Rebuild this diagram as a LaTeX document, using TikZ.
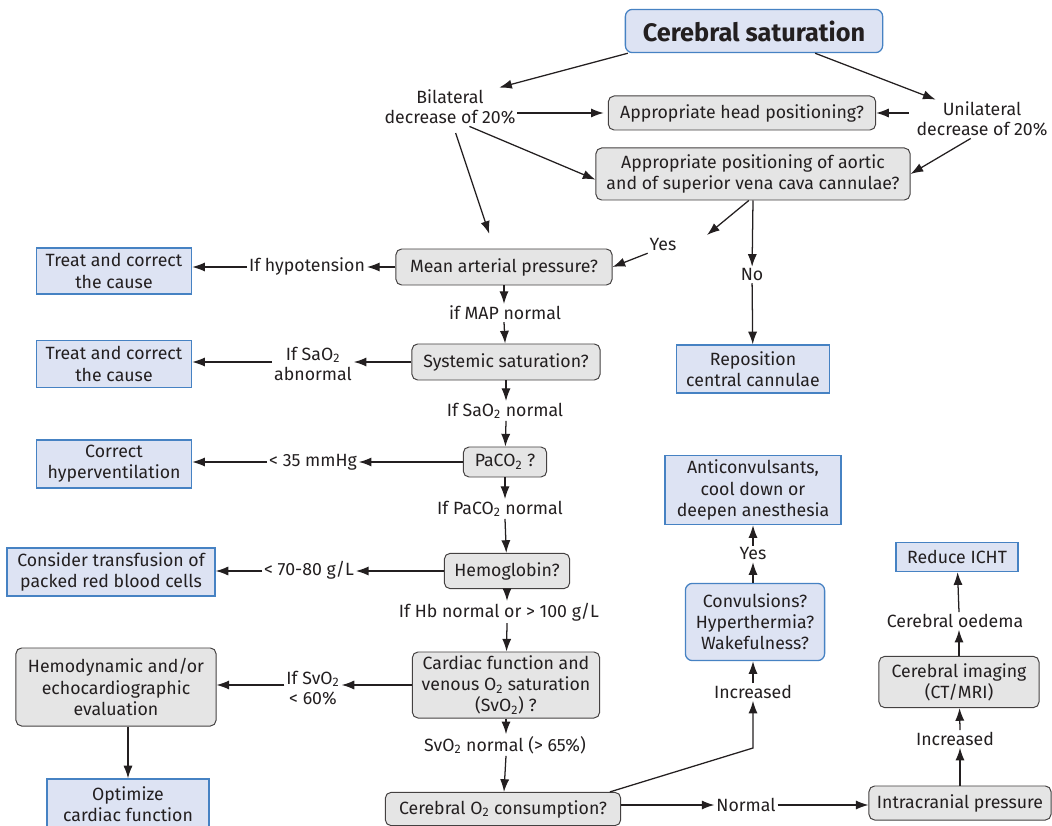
\documentclass[tikz,border=0pt]{standalone}
\usepackage{fontspec}
\setmainfont{Fira Sans}
\usetikzlibrary{arrows.meta,positioning}
\definecolor{boxblue}{RGB}{221,227,243}
\definecolor{edgeblue}{RGB}{70,130,195}
\definecolor{boxgray}{RGB}{229,229,229}
\definecolor{ink}{RGB}{35,31,32}
\newcommand{\Otwo}{O\textsubscript{2}}
\tikzset{
  act/.style={draw=edgeblue, fill=boxblue, line width=0.9pt, align=center, inner sep=0pt},
  ask/.style={draw=ink!85, fill=boxgray, rounded corners=4pt, line width=0.7pt, align=center, inner sep=0pt},
  askblue/.style={act, rounded corners=5pt},
  titlebox/.style={askblue, font=\fontsize{18}{21}\selectfont\bfseries},
  lbl/.style={align=center, inner sep=1pt, font=\fontsize{12.6}{14.5}\selectfont},
}

\begin{document}
\begin{tikzpicture}[x=0.025cm, y=-0.025cm, >={Latex[length=9pt,width=6.5pt]}, line width=0.9pt, draw=ink, text=ink,
  every node/.style={font=\fontsize{12.6}{15}\selectfont}]
  \useasboundingbox (0,0) rectangle (1052,826);
  \node[titlebox, minimum width=6.43cm, minimum height=1.08cm] (title) at (754,31) {Cerebral saturation};
  \node[lbl] (bil) at (450,107) {Bilateral\\decrease of 20\%};
  \node[lbl] (uni) at (982,119) {Unilateral\\decrease of 20\%};
  \node[ask, minimum width=6.68cm, minimum height=0.85cm] (headpos) at (742,113) {Appropriate head positioning?};
  \node[ask, minimum width=7.85cm, minimum height=1.3cm] (aortic) at (753,174) {Appropriate positioning of aortic\\and of superior vena cava cannulae?};
  \coordinate (yesend) at (707,235);
  \node[lbl] (yes) at (663,245) {Yes};
  \node[lbl] (no) at (752,275) {No};
  \node[act, minimum width=3.83cm, minimum height=1.2cm] (repo) at (753,369) {Reposition\\central cannulae};
  \node[ask, minimum width=5.4cm, minimum height=0.9cm] (map) at (504,267) {Mean arterial pressure?};
  \node[lbl] (hypo) at (307,266) {If hypotension};
  \node[act, minimum width=3.88cm, minimum height=1.15cm] (treat1) at (114,271) {Treat and correct\\the cause};
  \node[lbl] (mapok) at (505,313) {if MAP normal};
  \node[ask, minimum width=4.7cm, minimum height=0.9cm] (sys) at (506,362) {Systemic saturation?};
  \node[lbl] (saab) at (313,364) {If Sa\Otwo\\abnormal};
  \node[act, minimum width=3.88cm, minimum height=1.18cm] (treat2) at (114,364) {Treat and correct\\the cause};
  \node[lbl] (saok) at (505,411) {If Sa\Otwo{} normal};
  \node[ask, minimum width=2.08cm, minimum height=0.75cm] (paco) at (505,462) {PaC\Otwo{} ?};
  \node[lbl] (lowco) at (313,462) {< 35 mmHg};
  \node[act, minimum width=3.88cm, minimum height=1.2cm] (corr) at (114,464) {Correct\\hyperventilation};
  \node[lbl] (paok) at (500,509) {If PaC\Otwo{} normal};
  \node[ask, minimum width=3.13cm, minimum height=0.88cm] (hb) at (507,571) {Hemoglobin?};
  \node[lbl] (lowhb) at (309,570) {< 70-80 g/L};
  \node[act, minimum width=5.2cm, minimum height=1.2cm] (transf) at (111,572) {Consider transfusion of\\packed red blood cells};
  \node[lbl] (hbok) at (499,612) {If Hb normal or > 100 g/L};
  \node[ask, minimum width=4.68cm, minimum height=1.65cm] (card) at (506,685) {Cardiac function and\\venous \Otwo{} saturation\\(Sv\Otwo) ?};
  \node[lbl] (lowsv) at (313,688) {If Sv\Otwo\\< 60\%};
  \node[ask, minimum width=5cm, minimum height=1.95cm] (hemo) at (116,687) {Hemodynamic and/or\\echocardiographic\\evaluation};
  \node[act, minimum width=4.05cm, minimum height=1.25cm] (opt) at (128,804) {Optimize\\cardiac function};
  \node[lbl] (svok) at (505,745) {Sv\Otwo{} normal (> 65\%)};
  \node[ask, minimum width=5.88cm, minimum height=0.83cm] (cons) at (503,809) {Cerebral \Otwo{} consumption?};
  \node[lbl] (normal) at (746,805) {Normal};
  \node[ask, minimum width=4.55cm, minimum height=0.85cm] (icp) at (960,803) {Intracranial pressure};
  \node[lbl] (incicp) at (955,739) {Increased};
  \node[ask, minimum width=4cm, minimum height=1.28cm] (img) at (959,682) {Cerebral imaging\\(CT/MRI)};
  \node[lbl] (oed) at (955,621) {Cerebral oedema};
  \node[act, minimum width=3.05cm, minimum height=0.73cm] (icht) at (957,557) {Reduce ICHT};
  \coordinate (bend) at (753,748);
  \node[lbl] (incr) at (753,692) {Increased};
  \node[askblue, minimum width=3.48cm, minimum height=1.93cm] (conv) at (755,622) {Convulsions?\\Hyperthermia?\\Wakefulness?};
  \node[lbl] (yes2) at (753,554) {Yes};
  \node[act, minimum width=4.4cm, minimum height=1.73cm] (anti) at (753,490) {Anticonvulsants,\\cool down or\\deepen anesthesia};

  \path[->]
  (title.190) edge ([xshift=-13pt]bil.north east)
  (title.-20) edge ([xshift=15pt]uni.north west)
  (bil.east |- headpos) edge[shorten >=3pt] (headpos.west)
  (uni.west |- headpos) edge[shorten <=4pt] (headpos.east)
  (bil.-45) edge ([yshift=-4pt]aortic.west)
  (uni.-120) edge (aortic.east)
  (bil.-80) edge[shorten <=5pt, shorten >=11pt] ([xshift=-7pt]map.north)
  ([xshift=-3pt]aortic.south) edge (yesend)
  (yes.south west) edge (map.east)
  (aortic.south) edge (no)
  (no) edge (repo)
  (map) edge (map -| hypo.east)
  (hypo.west |- map) edge (treat1.east |- map)
  (map) edge (map |- mapok.north)
  (map |- mapok.south) edge (sys)
  (sys) edge (sys -| saab.east)
  (saab.west |- sys) edge (treat2.east |- sys)
  (sys) edge (sys |- saok.north)
  (sys |- saok.south) edge (paco)
  (paco) edge (paco -| lowco.east)
  (lowco.west |- paco) edge (corr.east |- paco)
  (paco) edge (paco |- paok.north)
  (paco |- paok.south) edge (hb)
  (hb) edge (hb -| lowhb.east)
  (lowhb.west |- hb) edge (transf.east |- hb)
  (hb) edge (hb |- hbok.north)
  (hb |- hbok.south) edge (card)
  (card) edge (card -| lowsv.east)
  (lowsv.west |- card) edge (hemo.east |- card)
  (opt |- hemo.south) edge (opt)
  (card) edge (card |- svok.north)
  (card |- svok.south) edge (cons)
  (cons.east |- normal) edge (normal)
  (normal) edge (normal -| icp.west)
  (icp) edge (icp |- incicp.south)
  (icp |- incicp.north) edge (img)
  (img) edge (img |- oed.south)
  (img |- oed.north) edge (icht)
  (incr) edge (incr |- conv.south)
  (incr |- conv.north) edge (yes2)
  (yes2) edge (anti);
  \draw[->] ([xshift=-8pt]cons.north east) -- (bend) -- (bend |- incr.south);
\end{tikzpicture}
\end{document}
